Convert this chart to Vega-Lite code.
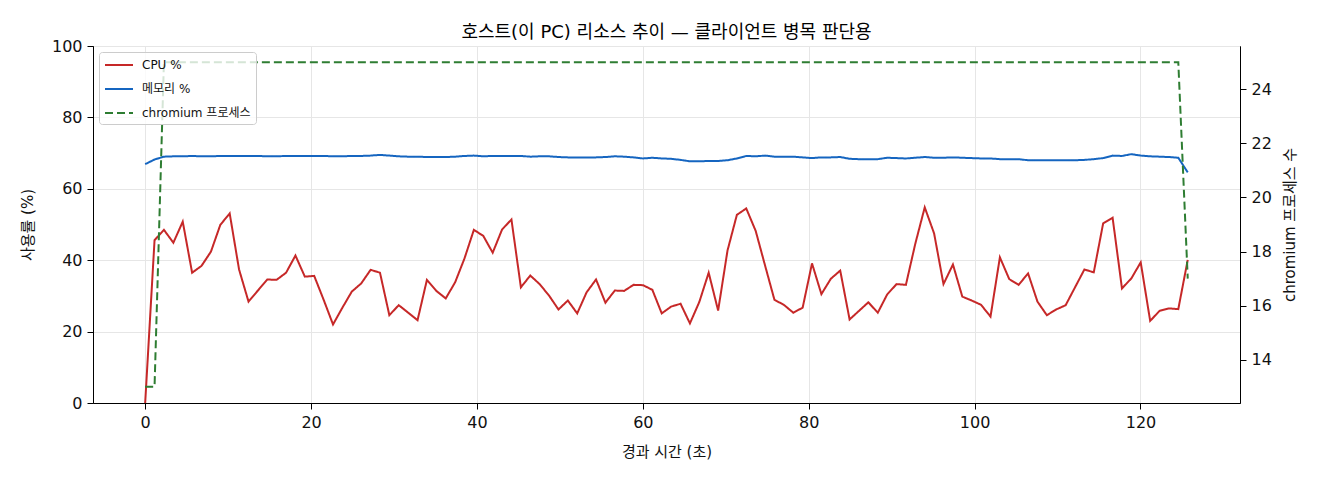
{
  "$schema": "https://vega.github.io/schema/vega-lite/v6.json",
  "width": 1147,
  "height": 357,
  "autosize": {"type": "none"},
  "padding": {"left": 93, "top": 46, "right": 80, "bottom": 77},
  "background": "white",
  "title": {
    "text": "호스트(이 PC) 리소스 추이 — 클라이언트 병목 판단용",
    "fontSize": 18, "fontWeight": "normal", "font": "'DejaVu Sans', 'Noto Sans CJK KR'", "color": "#000000", "offset": -4
  },
  "data": {"values": [
    {"t": 0.00, "cpu": 0.0, "mem": 66.9, "proc": 13},
    {"t": 1.13, "cpu": 45.6, "mem": 68.2, "proc": 13},
    {"t": 2.26, "cpu": 48.5, "mem": 69.0, "proc": 25},
    {"t": 3.40, "cpu": 44.9, "mem": 69.1, "proc": 25},
    {"t": 4.53, "cpu": 50.8, "mem": 69.1, "proc": 25},
    {"t": 5.66, "cpu": 36.5, "mem": 69.2, "proc": 25},
    {"t": 6.79, "cpu": 38.4, "mem": 69.1, "proc": 25},
    {"t": 7.93, "cpu": 42.4, "mem": 69.1, "proc": 25},
    {"t": 9.06, "cpu": 49.9, "mem": 69.2, "proc": 25},
    {"t": 10.19, "cpu": 53.1, "mem": 69.2, "proc": 25},
    {"t": 11.32, "cpu": 37.4, "mem": 69.2, "proc": 25},
    {"t": 12.46, "cpu": 28.4, "mem": 69.2, "proc": 25},
    {"t": 13.59, "cpu": 31.5, "mem": 69.2, "proc": 25},
    {"t": 14.72, "cpu": 34.6, "mem": 69.1, "proc": 25},
    {"t": 15.85, "cpu": 34.5, "mem": 69.1, "proc": 25},
    {"t": 16.99, "cpu": 36.5, "mem": 69.2, "proc": 25},
    {"t": 18.12, "cpu": 41.3, "mem": 69.2, "proc": 25},
    {"t": 19.25, "cpu": 35.4, "mem": 69.2, "proc": 25},
    {"t": 20.38, "cpu": 35.6, "mem": 69.2, "proc": 25},
    {"t": 21.52, "cpu": 28.9, "mem": 69.2, "proc": 25},
    {"t": 22.65, "cpu": 22.0, "mem": 69.1, "proc": 25},
    {"t": 23.78, "cpu": 26.7, "mem": 69.1, "proc": 25},
    {"t": 24.91, "cpu": 31.2, "mem": 69.2, "proc": 25},
    {"t": 26.05, "cpu": 33.5, "mem": 69.2, "proc": 25},
    {"t": 27.18, "cpu": 37.3, "mem": 69.3, "proc": 25},
    {"t": 28.31, "cpu": 36.5, "mem": 69.5, "proc": 25},
    {"t": 29.44, "cpu": 24.6, "mem": 69.3, "proc": 25},
    {"t": 30.57, "cpu": 27.4, "mem": 69.1, "proc": 25},
    {"t": 31.71, "cpu": 25.3, "mem": 69.0, "proc": 25},
    {"t": 32.84, "cpu": 23.2, "mem": 69.0, "proc": 25},
    {"t": 33.97, "cpu": 34.5, "mem": 68.9, "proc": 25},
    {"t": 35.10, "cpu": 31.4, "mem": 68.9, "proc": 25},
    {"t": 36.24, "cpu": 29.3, "mem": 68.9, "proc": 25},
    {"t": 37.37, "cpu": 33.8, "mem": 69.0, "proc": 25},
    {"t": 38.50, "cpu": 40.5, "mem": 69.2, "proc": 25},
    {"t": 39.63, "cpu": 48.5, "mem": 69.3, "proc": 25},
    {"t": 40.77, "cpu": 46.8, "mem": 69.1, "proc": 25},
    {"t": 41.90, "cpu": 42.1, "mem": 69.2, "proc": 25},
    {"t": 43.03, "cpu": 48.6, "mem": 69.2, "proc": 25},
    {"t": 44.16, "cpu": 51.4, "mem": 69.2, "proc": 25},
    {"t": 45.30, "cpu": 32.4, "mem": 69.2, "proc": 25},
    {"t": 46.43, "cpu": 35.7, "mem": 69.0, "proc": 25},
    {"t": 47.56, "cpu": 33.3, "mem": 69.1, "proc": 25},
    {"t": 48.69, "cpu": 30.1, "mem": 69.1, "proc": 25},
    {"t": 49.83, "cpu": 26.2, "mem": 68.9, "proc": 25},
    {"t": 50.96, "cpu": 28.7, "mem": 68.8, "proc": 25},
    {"t": 52.09, "cpu": 25.1, "mem": 68.8, "proc": 25},
    {"t": 53.22, "cpu": 31.0, "mem": 68.8, "proc": 25},
    {"t": 54.36, "cpu": 34.6, "mem": 68.8, "proc": 25},
    {"t": 55.49, "cpu": 28.1, "mem": 68.9, "proc": 25},
    {"t": 56.62, "cpu": 31.5, "mem": 69.1, "proc": 25},
    {"t": 57.75, "cpu": 31.4, "mem": 69.0, "proc": 25},
    {"t": 58.88, "cpu": 33.1, "mem": 68.8, "proc": 25},
    {"t": 60.02, "cpu": 33.0, "mem": 68.5, "proc": 25},
    {"t": 61.15, "cpu": 31.7, "mem": 68.7, "proc": 25},
    {"t": 62.28, "cpu": 25.1, "mem": 68.5, "proc": 25},
    {"t": 63.41, "cpu": 27.0, "mem": 68.4, "proc": 25},
    {"t": 64.55, "cpu": 27.8, "mem": 68.1, "proc": 25},
    {"t": 65.68, "cpu": 22.3, "mem": 67.7, "proc": 25},
    {"t": 66.81, "cpu": 28.3, "mem": 67.7, "proc": 25},
    {"t": 67.94, "cpu": 36.5, "mem": 67.8, "proc": 25},
    {"t": 69.08, "cpu": 25.9, "mem": 67.8, "proc": 25},
    {"t": 70.21, "cpu": 42.7, "mem": 68.0, "proc": 25},
    {"t": 71.34, "cpu": 52.7, "mem": 68.5, "proc": 25},
    {"t": 72.47, "cpu": 54.5, "mem": 69.2, "proc": 25},
    {"t": 73.61, "cpu": 48.2, "mem": 69.1, "proc": 25},
    {"t": 74.74, "cpu": 38.5, "mem": 69.3, "proc": 25},
    {"t": 75.87, "cpu": 28.9, "mem": 69.0, "proc": 25},
    {"t": 77.00, "cpu": 27.5, "mem": 69.0, "proc": 25},
    {"t": 78.14, "cpu": 25.3, "mem": 69.0, "proc": 25},
    {"t": 79.27, "cpu": 26.7, "mem": 68.8, "proc": 25},
    {"t": 80.40, "cpu": 39.1, "mem": 68.6, "proc": 25},
    {"t": 81.53, "cpu": 30.5, "mem": 68.8, "proc": 25},
    {"t": 82.67, "cpu": 34.8, "mem": 68.8, "proc": 25},
    {"t": 83.80, "cpu": 37.1, "mem": 68.9, "proc": 25},
    {"t": 84.93, "cpu": 23.4, "mem": 68.4, "proc": 25},
    {"t": 86.06, "cpu": 25.8, "mem": 68.3, "proc": 25},
    {"t": 87.19, "cpu": 28.2, "mem": 68.3, "proc": 25},
    {"t": 88.33, "cpu": 25.3, "mem": 68.3, "proc": 25},
    {"t": 89.46, "cpu": 30.4, "mem": 68.7, "proc": 25},
    {"t": 90.59, "cpu": 33.3, "mem": 68.6, "proc": 25},
    {"t": 91.72, "cpu": 33.1, "mem": 68.5, "proc": 25},
    {"t": 92.86, "cpu": 44.7, "mem": 68.7, "proc": 25},
    {"t": 93.99, "cpu": 54.8, "mem": 68.9, "proc": 25},
    {"t": 95.12, "cpu": 47.5, "mem": 68.7, "proc": 25},
    {"t": 96.25, "cpu": 33.3, "mem": 68.7, "proc": 25},
    {"t": 97.39, "cpu": 38.8, "mem": 68.8, "proc": 25},
    {"t": 98.52, "cpu": 29.8, "mem": 68.7, "proc": 25},
    {"t": 99.65, "cpu": 28.7, "mem": 68.6, "proc": 25},
    {"t": 100.78, "cpu": 27.5, "mem": 68.5, "proc": 25},
    {"t": 101.92, "cpu": 24.2, "mem": 68.5, "proc": 25},
    {"t": 103.05, "cpu": 40.8, "mem": 68.3, "proc": 25},
    {"t": 104.18, "cpu": 34.7, "mem": 68.3, "proc": 25},
    {"t": 105.31, "cpu": 33.1, "mem": 68.3, "proc": 25},
    {"t": 106.45, "cpu": 36.3, "mem": 68.0, "proc": 25},
    {"t": 107.58, "cpu": 28.4, "mem": 68.0, "proc": 25},
    {"t": 108.71, "cpu": 24.6, "mem": 68.0, "proc": 25},
    {"t": 109.84, "cpu": 26.2, "mem": 68.0, "proc": 25},
    {"t": 110.98, "cpu": 27.4, "mem": 68.0, "proc": 25},
    {"t": 112.11, "cpu": 32.4, "mem": 68.0, "proc": 25},
    {"t": 113.24, "cpu": 37.4, "mem": 68.1, "proc": 25},
    {"t": 114.37, "cpu": 36.6, "mem": 68.3, "proc": 25},
    {"t": 115.50, "cpu": 50.3, "mem": 68.6, "proc": 25},
    {"t": 116.64, "cpu": 51.9, "mem": 69.3, "proc": 25},
    {"t": 117.77, "cpu": 32.1, "mem": 69.2, "proc": 25},
    {"t": 118.90, "cpu": 34.9, "mem": 69.7, "proc": 25},
    {"t": 120.03, "cpu": 39.4, "mem": 69.3, "proc": 25},
    {"t": 121.17, "cpu": 23.0, "mem": 69.1, "proc": 25},
    {"t": 122.30, "cpu": 25.8, "mem": 69.0, "proc": 25},
    {"t": 123.43, "cpu": 26.5, "mem": 68.9, "proc": 25},
    {"t": 124.56, "cpu": 26.3, "mem": 68.7, "proc": 25},
    {"t": 125.70, "cpu": 40.1, "mem": 64.6, "proc": 17}
  ]},
  "transform": [{"fold": ["cpu", "mem", "proc"], "as": ["series", "value"]}],
  "encoding": {
    "x": {
      "field": "t", "type": "quantitative",
      "scale": {"domain": [-6.29, 132], "nice": false, "zero": false},
      "axis": {"values": [0, 20, 40, 60, 80, 100, 120], "title": "경과 시간 (초)", "grid": true, "titlePadding": 14}
    },
    "color": {
      "field": "series", "type": "nominal",
      "scale": {"domain": ["cpu", "mem", "proc"], "range": ["#c62828", "#1565c0", "#2e7d32"]},
      "legend": {"title": null, "labelExpr": "datum.label == 'cpu' ? 'CPU %' : datum.label == 'mem' ? '메모리 %' : 'chromium 프로세스'"}
    },
    "strokeDash": {
      "field": "series", "type": "nominal",
      "scale": {"domain": ["cpu", "mem", "proc"], "range": [[1, 0], [1, 0], [8, 4]]},
      "legend": {"title": null, "labelExpr": "datum.label == 'cpu' ? 'CPU %' : datum.label == 'mem' ? '메모리 %' : 'chromium 프로세스'"}
    }
  },
  "layer": [
    {
      "transform": [{"filter": "datum.series != 'proc'"}],
      "mark": {"type": "line", "strokeWidth": 2},
      "encoding": {
        "y": {
          "field": "value", "type": "quantitative",
          "scale": {"domain": [0, 100], "nice": false},
          "axis": {"values": [0, 20, 40, 60, 80, 100], "title": "사용률 (%)", "grid": true, "titlePadding": 16}
        }
      }
    },
    {
      "transform": [{"filter": "datum.series == 'proc'"}],
      "mark": {"type": "line", "strokeWidth": 2},
      "encoding": {
        "y": {
          "field": "value", "type": "quantitative",
          "scale": {"domain": [12.4, 25.6], "nice": false, "zero": false},
          "axis": {"orient": "right", "values": [14, 16, 18, 20, 22, 24], "title": "chromium 프로세스 수", "grid": false, "titleAngle": 270, "titlePadding": 26}
        }
      }
    }
  ],
  "resolve": {"scale": {"y": "independent"}},
  "config": {
    "font": "'DejaVu Sans', 'Noto Sans CJK KR'",
    "view": {"stroke": "#000000", "strokeWidth": 1},
    "axis": {
      "labelFont": "'DejaVu Sans', 'Noto Sans CJK KR'", "titleFont": "'DejaVu Sans', 'Noto Sans CJK KR'",
      "labelFontSize": 16, "titleFontSize": 15, "titleFontWeight": "normal",
      "labelColor": "#111111", "titleColor": "#111111",
      "domainColor": "#000000", "tickColor": "#000000", "tickSize": 6, "labelPadding": 5,
      "gridColor": "#e6e6e6", "gridWidth": 1, "labelFlush": false
    },
    "legend": {
      "orient": "none", "legendX": 6, "legendY": 6,
      "padding": 5, "fillColor": "rgba(255,255,255,0.8)", "strokeColor": "#cccccc", "cornerRadius": 3,
      "labelFont": "'DejaVu Sans', 'Noto Sans CJK KR'", "labelFontSize": 12, "labelColor": "#111111",
      "symbolType": "M-1,0H3", "symbolSize": 196, "symbolStrokeWidth": 2, "labelOffset": 22, "rowPadding": 10
    }
  }
}
